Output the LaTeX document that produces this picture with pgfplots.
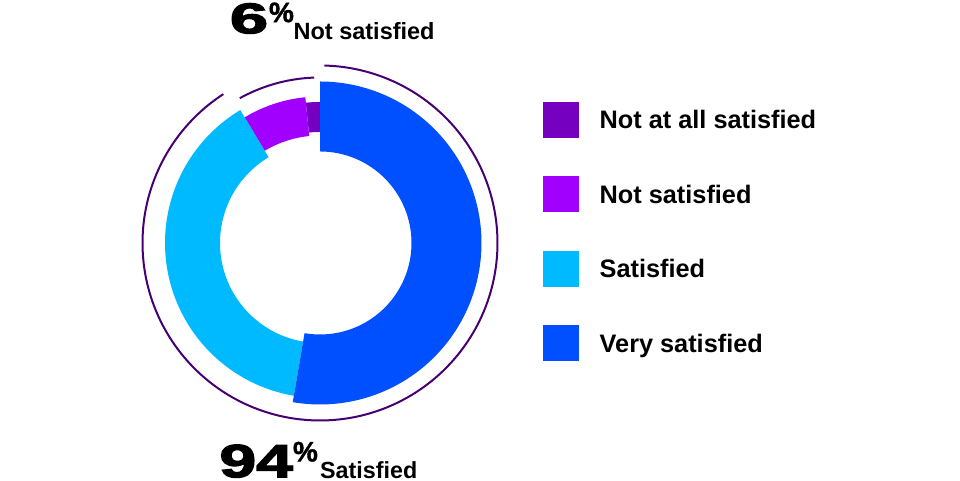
\documentclass[border=0pt]{standalone}
\usepackage{fontspec}
\setmainfont{Liberation Sans}
\newfontfamily\heavyfont{Liberation Sans}[FakeBold=2.5]
\newfontfamily\pctfont{Liberation Sans}[FakeBold=1.5]
\usepackage{graphicx}
\usepackage{pgfplots}
\usepackage{pgfplotstable}
\pgfplotsset{compat=1.18}

\definecolor{cNotAtAll}{HTML}{7500C0}
\definecolor{cNotSat}{HTML}{A100FF}
\definecolor{cSat}{HTML}{00BAFF}
\definecolor{cVery}{HTML}{0050FF}
\definecolor{cArc}{HTML}{460073}

% share of answers (%), inner and outer radius of each ring segment (px)
\pgfplotstableread{
name     value rin   rout
NotAtAll 1.6   111   141
NotSat   7.0   107.5 146.5
Sat      38.7  100   155
Very     52.7  91.5  161.5
}\satdata

\newcommand\getval[3]{\pgfplotstablegetelem{#1}{#2}\of\satdata\edef#3{\pgfplotsretval}}
\getval{0}{value}\vA\getval{1}{value}\vB\getval{2}{value}\vC\getval{3}{value}\vD
\getval{0}{rin}\rinA\getval{1}{rin}\rinB\getval{2}{rin}\rinC\getval{3}{rin}\rinD
\getval{0}{rout}\routA\getval{1}{rout}\routB\getval{2}{rout}\routC\getval{3}{rout}\routD
\pgfmathsetmacro\aVery{3.6*\vD}
\pgfmathsetmacro\aSat{\aVery+3.6*\vC}
\pgfmathsetmacro\aNotSat{\aSat+3.6*\vB}
\pgfmathsetmacro\aEnd{\aNotSat+3.6*\vA}

% #1 start angle, #2 end angle (clockwise from top), #3 inner r, #4 outer r, #5 colour
\newcommand\seg[5]{%
\addplot[fill=#5, draw=none, domain=0:3, samples=361, variable=\t]
 ({((\t<=1) ? #4 : ((\t<=2) ? (#4+(#3-#4)*(\t-1)) : #3))*sin((\t<=1) ? (#1+(#2-#1)*\t) : ((\t<=2) ? #2 : (#2-(#2-#1)*(\t-2))))},
  {((\t<=1) ? #4 : ((\t<=2) ? (#4+(#3-#4)*(\t-1)) : #3))*cos((\t<=1) ? (#1+(#2-#1)*\t) : ((\t<=2) ? #2 : (#2-(#2-#1)*(\t-2))))});
}

\begin{document}%
\begin{tikzpicture}[x=0.5bp,y=0.5bp]
\begin{axis}[
  x=0.5bp, y=0.5bp,
  xmin=-320, xmax=640, ymin=-238, ymax=243,
  hide axis, clip=false,
  at={(0,0)}, anchor=south west,
  legend image code/.code={\fill[#1] (0bp,-9bp) rectangle (18bp,9bp);},
  legend cell align=left,
  legend style={at={(0.5653,0.7886)}, anchor=north west, draw=none, fill=none,
    inner sep=0pt, outer sep=0pt, row sep=19.25bp,
    font=\fontsize{12.65bp}{14bp}\selectfont\bfseries,
    nodes={inner sep=0pt, text height=9.15bp, text depth=0pt},
    /tikz/every odd column/.append style={column sep=10.5bp}},
]
\seg{\aNotSat}{\aEnd}{\rinA}{\routA}{cNotAtAll}
\addlegendentry{Not at all satisfied}
\seg{\aSat}{\aNotSat}{\rinB}{\routB}{cNotSat}
\addlegendentry{Not satisfied}
\seg{\aVery}{\aSat}{\rinC}{\routC}{cSat}
\addlegendentry{Satisfied}
\seg{0}{\aVery}{\rinD}{\routD}{cVery}
\addlegendentry{Very satisfied}
\addplot[cArc, line width=1bp, domain=1.4:327, samples=220, variable=\t, forget plot]
  ({177.5*sin(\t)},{177.5*cos(\t)});
\addplot[cArc, line width=1bp, domain=331:358, samples=40, variable=\t, forget plot]
  ({165.5*sin(\t)},{165.5*cos(\t)});
\end{axis}
% top label
\node[anchor=base west, inner sep=0pt] at (229.5,447.7)
  {\heavyfont\bfseries\fontsize{21.5bp}{22bp}\selectfont\scalebox{1.6}[1]{6}};
\node[anchor=base west, inner sep=0pt] at (268.6,458.9)
  {\pctfont\bfseries\fontsize{14bp}{15bp}\selectfont \%};
\node[anchor=base west, inner sep=0pt] at (293.2,441.7)
  {\bfseries\fontsize{11.75bp}{13bp}\selectfont Not satisfied};
% bottom label
\node[anchor=base west, inner sep=0pt] at (219,3.8)
  {\heavyfont\bfseries\fontsize{23.3bp}{24bp}\selectfont\scalebox{1.42}[1]{94}};
\node[anchor=base west, inner sep=0pt] at (292.6,19.6)
  {\pctfont\bfseries\fontsize{14bp}{15bp}\selectfont \%};
\node[anchor=base west, inner sep=0pt] at (319.8,2.7)
  {\bfseries\fontsize{11.65bp}{13bp}\selectfont Satisfied};
\pgfresetboundingbox
\useasboundingbox (0,0) rectangle (960,481);
\end{tikzpicture}%
\end{document}
